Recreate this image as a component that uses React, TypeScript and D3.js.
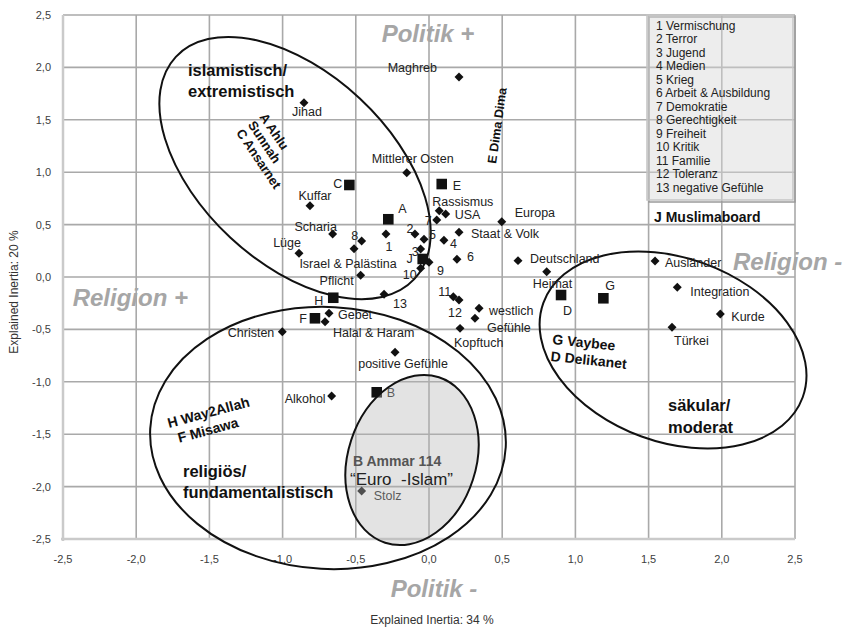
import React from 'react';
import * as d3 from 'd3';

// Begriffe (Rauten)
const termNames = [
  'Maghreb', 'Jihad', 'Mittlerer Osten', 'Kuffar', 'Rassismus', 'USA', '7', 'Europa',
  'Scharia', '1', '2', 'Staat & Volk', '5', '4', '8', 'Israel & Palästina', '3', 'Lüge',
  '6', 'Deutschland', '9', '10', 'Heimat', 'Pflicht', 'Ausländer', 'Integration', '13',
  '11', '12', 'westlich', 'Gebet', 'Kurde', 'Gefühle', 'Halal & Haram', 'Türkei',
  'Kopftuch', 'Christen', 'positive Gefühle', 'Alkohol', 'Stolz',
];
const termX = [
  0.205, -0.854, -0.152, -0.813, 0.07, 0.114, 0.053, 0.497,
  -0.658, -0.294, -0.096, 0.205, -0.034, 0.102, -0.46, -0.512, -0.057, -0.888,
  0.191, 0.608, 0.0, -0.057, 0.804, -0.467, 1.544, 1.696, -0.307,
  0.166, 0.205, 0.342, -0.683, 1.99, 0.314, -0.71, 1.66,
  0.212, -1.002, -0.232, -0.665, -0.46,
];
const termY = [
  1.908, 1.663, 0.995, 0.68, 0.633, 0.601, 0.544, 0.528,
  0.41, 0.41, 0.41, 0.427, 0.36, 0.35, 0.344, 0.27, 0.267, 0.226,
  0.169, 0.156, 0.14, 0.083, 0.051, 0.016, 0.153, -0.098, -0.165,
  -0.188, -0.219, -0.299, -0.346, -0.353, -0.394, -0.427, -0.48,
  -0.49, -0.522, -0.718, -1.136, -2.042,
];

// Foren (Quadrate)
const groupNames = ['A', 'B', 'C', 'D', 'E', 'F', 'G', 'H', 'J'];
const groupX = [-0.278, -0.357, -0.544, 0.902, 0.087, -0.779, 1.191, -0.654, -0.043];
const groupY = [0.551, -1.1, 0.878, -0.172, 0.887, -0.394, -0.203, -0.198, 0.172];

const legendItems = [
  '1 Vermischung', '2 Terror', '3 Jugend', '4 Medien', '5 Krieg', '6 Arbeit & Ausbildung',
  '7 Demokratie', '8 Gerechtigkeit', '9 Freiheit', '10 Kritik', '11 Familie', '12 Toleranz',
  '13 negative Gefühle',
];

const ticks = [-2.5, -2, -1.5, -1, -0.5, 0, 0.5, 1, 1.5, 2, 2.5];

// label offsets in px: dx, dy, anchor
const labelPos: Record<string, [number, number, string]> = {
  Maghreb: [-22, -5, 'end'], Jihad: [-12, 13, 'start'], 'Mittlerer Osten': [6, -10, 'middle'],
  Kuffar: [5, -6, 'middle'], Rassismus: [-7, -5, 'start'], USA: [9, 5, 'start'], '7': [-5, 5, 'end'],
  Europa: [13, -5, 'start'], Scharia: [-17, -3, 'middle'], '1': [3, 17, 'middle'], '2': [-5, -1, 'middle'],
  'Staat & Volk': [12, 6, 'start'], '5': [5, 0, 'start'], '4': [6, 8, 'start'], '8': [-7, -1, 'middle'],
  'Israel & Palästina': [-6, 19, 'middle'], '3': [-2, 7, 'end'], 'Lüge': [2, -6, 'end'],
  '6': [10, 2, 'start'], Deutschland: [12, 2, 'start'], '9': [8, 13, 'start'], '10': [-4, 11, 'end'],
  Heimat: [-14, 16, 'start'], Pflicht: [-7, 10, 'end'], 'Ausländer': [10, 6, 'start'],
  Integration: [13, 9, 'start'], '13': [9, 14, 'start'], '11': [-2, -1, 'end'], '12': [-4, 17, 'middle'],
  westlich: [10, 7, 'start'], Gebet: [9, 6, 'start'], Kurde: [11, 7, 'start'], 'Gefühle': [12, 14, 'start'],
  'Halal & Haram': [8, 15, 'start'], 'Türkei': [2, 18, 'start'], Kopftuch: [-6, 19, 'start'],
  Christen: [-8, 5, 'end'], 'positive Gefühle': [8, 16, 'middle'], Alkohol: [-6, 7, 'end'],
  Stolz: [12, 9, 'start'],
  A: [10, -6, 'start'], B: [10, 5, 'start'], C: [-7, 3, 'end'], D: [2, 20, 'start'], E: [11, 6, 'start'],
  F: [-8, 5, 'end'], G: [2, -8, 'start'], H: [-10, 7, 'end'], J: [-10, 4, 'end'],
};

// cluster ellipses: centre in data units, radii (px) and rotation (deg)
const zoneX = [-0.915, -0.69, 1.667];
const zoneY = [1.04, -1.536, -0.697];
const zoneShape = [
  [163, 95, 43],
  [178, 131, 3],
  [138, 92, 20],
];
const euroX = -0.116;
const euroY = -1.746;

const FONT = 'Liberation Sans, Arial, sans-serif';

const W = 844;
const H = 628;

const App = () => {
  const x = d3.scaleLinear().domain([-2.5, 2.5]).range([63, 795]);
  const y = d3.scaleLinear().domain([-2.5, 2.5]).range([539, 15]);
  const fmt = (v: number) => v.toFixed(1).replace('.', ',');
  const diamond = d3.symbol(d3.symbolSquare, 40)();
  const square = d3.symbol(d3.symbolSquare, 112)();

  const label = (name: string, px: number, py: number, fill = '#222') => {
    const p = labelPos[name] || [8, 4, 'start'];
    return (
      <text key={'l' + name} x={px + p[0]} y={py + p[1]} textAnchor={p[2] as any}
        fontSize={12.5} fill={fill}>{name}</text>
    );
  };

  return (
    <svg width={W} height={H} style={{ position: 'absolute', left: 0, top: 0 }} fontFamily={FONT}>
      <rect width={W} height={H} fill="#fff" />
      {/* grid */}
      {ticks.map((t) => (
        <g key={'g' + t}>
          <line x1={x(t)} x2={x(t)} y1={y(2.5)} y2={y(-2.5)} stroke="#a9a9a9" strokeWidth={1.6} />
          <line x1={x(-2.5)} x2={x(2.5)} y1={y(t)} y2={y(t)} stroke="#a9a9a9" strokeWidth={1.6} />
        </g>
      ))}
      <line x1={x(-2.5)} x2={x(-2.5)} y1={y(2.5)} y2={y(-2.5) + 2} stroke="#cacaca" strokeWidth={2.5} />
      <line x1={x(-2.5) - 2} x2={x(2.5)} y1={y(-2.5)} y2={y(-2.5)} stroke="#cacaca" strokeWidth={2.5} />
      {ticks.map((t) => (
        <g key={'t' + t} fontSize={11} fill="#404040">
          <text x={51} y={y(t) + 4} textAnchor="end">{fmt(t)}</text>
          <text x={x(t)} y={y(-2.5) + 24} textAnchor="middle">{fmt(t)}</text>
        </g>
      ))}
      <text x={432} y={624} textAnchor="middle" fontSize={12} fill="#333">Explained Inertia: 34 %</text>
      <text transform="translate(18,292) rotate(-90)" textAnchor="middle" fontSize={12} fill="#333">
        Explained Inertia: 20 %
      </text>

      {/* legend box */}
      <rect x={649} y={17} width={146} height={185} fill="none" stroke="#9a9a9a" strokeWidth={1.5} />
      <rect x={647} y={15} width={146} height={185} fill="#d8d8d8" fillOpacity={0.45} stroke="#c4c4c4" strokeWidth={1.5} />
      {legendItems.map((s, i) => (
        <text key={s} x={656} y={29.5 + i * 13.5} fontSize={12} fill="#222">{s}</text>
      ))}

      {/* axis annotations */}
      <g fontSize={24} fontWeight="bold" fontStyle="italic" fill="#a6a6a6">
        <text x={428} y={42} textAnchor="middle">Politik +</text>
        <text x={434} y={597} textAnchor="middle">Politik -</text>
        <text x={188} y={306} textAnchor="end">Religion +</text>
        <text x={733} y={270}>Religion -</text>
      </g>

      {/* cluster ellipses */}
      {zoneX.map((cx, i) => (
        <ellipse key={'z' + i} cx={0} cy={0} rx={zoneShape[i][0]} ry={zoneShape[i][1]}
          transform={`translate(${x(cx)},${y(zoneY[i])}) rotate(${zoneShape[i][2]})`}
          fill="none" stroke="#111" strokeWidth={2} />
      ))}

      {/* points */}
      {termNames.map((n, i) => (
        <path key={'p' + i} d={diamond} fill="#111"
          transform={`translate(${x(termX[i])},${y(termY[i])}) rotate(45)`} />
      ))}
      {groupNames.map((n, i) => (
        <path key={'q' + i} d={square} fill="#111"
          transform={`translate(${x(groupX[i])},${y(groupY[i])})`} />
      ))}
      {termNames.map((n, i) => label(n, x(termX[i]), y(termY[i])))}
      {groupNames.map((n, i) => label(n, x(groupX[i]), y(groupY[i])))}

      {/* Euro-Islam ellipse */}
      <ellipse cx={0} cy={0} rx={64} ry={87}
        transform={`translate(${x(euroX)},${y(euroY)}) rotate(18)`}
        fill="#b5b5b5" fillOpacity={0.38} stroke="#111" strokeWidth={2} />

      {/* cluster texts */}
      <g fontWeight="bold" fill="#111">
        <text x={188} y={76} fontSize={16.5}>islamistisch/</text>
        <text x={188} y={97} fontSize={16.5}>extremistisch</text>
        <g transform="translate(259,117) rotate(56)" fontSize={13}>
          <text x={0} y={0}>A Ahlu</text>
          <text x={0} y={14}>Sunnah</text>
          <text x={0} y={28}>C Ansarnet</text>
        </g>
        <text transform="translate(496,164) rotate(-82)" fontSize={12.5}>E Dima Dima</text>
        <text x={654} y={222} fontSize={14}>J Muslimaboard</text>
        <g transform="translate(552,344) rotate(6)" fontSize={14}>
          <text x={0} y={0}>G Vaybee</text>
          <text x={0} y={17}>D Delikanet</text>
        </g>
        <g transform="translate(169,428) rotate(-15)" fontSize={14}>
          <text x={0} y={0}>H Way2Allah</text>
          <text x={6} y={17}>F Misawa</text>
        </g>
        <text x={183} y={477} fontSize={16.5}>religiös/</text>
        <text x={183} y={498} fontSize={16.5}>fundamentalistisch</text>
        <text x={668} y={411} fontSize={16.5}>säkular/</text>
        <text x={668} y={433} fontSize={16.5}>moderat</text>
        <text x={353} y={466} fontSize={14} fill="#555">B Ammar 114</text>
      </g>
      <text x={350} y={485} fontSize={17} fill="#222" style={{ whiteSpace: 'pre' }}>
        {'\u201CEuro  -Islam\u201D'}
      </text>
    </svg>
  );
};

export default App;
